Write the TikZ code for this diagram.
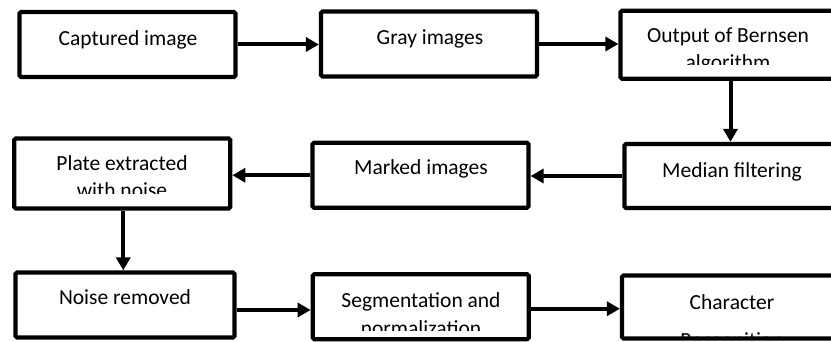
\documentclass[tikz,border=0pt]{standalone}
\usepackage{fontspec}
\setmainfont{Carlito}
\usetikzlibrary{arrows.meta}
\begin{document}
\begin{tikzpicture}[x=1pt,y=-1pt,
  stage/.style={draw, line width=4.2pt, rounded corners=1.5pt,
    minimum width=216pt, minimum height=65pt, inner sep=0pt},
  widestage/.style={stage, minimum width=220pt},
  flow/.style={line width=4pt, -{Triangle[length=13pt,width=14pt]}},
  lbl/.style={font=\fontsize{21.5}{26}\selectfont, anchor=base, inner sep=0pt}]
\clip (0,0) rectangle (831,342);
\fill[white] (0,0) rectangle (831,342);

% processing stages
\node[stage] (cap) at (127.5,44.5) {};
\node[stage] (gray) at (429,44) {};
\node[widestage, minimum height=68pt] (bern) at (730.5,44.75) {};
\node[widestage, minimum height=64pt] (med) at (734.5,176) {};
\node[stage] (mark) at (420.5,175.25) {};
\node[stage, minimum height=70pt] (plate) at (122.25,173.5) {};
\node[stage, minimum width=219pt] (noise) at (125,305) {};
\node[stage] (seg) at (420.75,306.75) {};
\node[widestage, minimum height=63pt] (chr) at (732,307) {};

% single-line labels
\node[lbl] at (128,46) {Captured image};
\node[lbl] at (430,45) {Gray images};
\node[lbl] at (732,178) {Median filtering};
\node[lbl] at (421,175) {Marked images};
\node[lbl] at (125,305) {Noise removed};

% two-line labels, second line cut off by the text frame
\node[lbl] at (728,43) {Output of Bernsen};
\begin{scope}
  \clip (600,0) rectangle (840,65);
  \node[lbl] at (728,70) {algorithm};
\end{scope}
\node[lbl] at (122,171) {Plate extracted};
\begin{scope}
  \clip (0,140) rectangle (240,194);
  \node[lbl] at (122,198) {with noise};
\end{scope}
\node[lbl] at (421,307) {Segmentation and};
\begin{scope}
  \clip (300,280) rectangle (540,330);
  \node[lbl] at (421,335) {normalization};
\end{scope}
\node[lbl] at (732,309) {Character};
\begin{scope}
  \clip (600,280) rectangle (840,336);
  \node[lbl] at (732,347.5) {Recognition};
\end{scope}

% connectors
\draw[flow] (cap.east) -- (gray.west |- cap.east);
\draw[flow] (gray.east) -- (bern.west |- gray.east);
\draw[flow] (bern.south) -- (bern.south |- med.north);
\draw[flow] (med.west) -- (mark.east |- med.west);
\draw[flow] (mark.west) -- (plate.east |- mark.west);
\draw[flow] ([xshift=1pt]plate.south) -- ([xshift=1pt]plate.south |- noise.north);
\draw[flow] ([yshift=-5pt]noise.east) -- ([yshift=-5pt]seg.west |- noise.east);
\draw[flow] ([yshift=-2pt]seg.east) -- ([yshift=-2pt]chr.west |- seg.east);
\end{tikzpicture}
\end{document}
